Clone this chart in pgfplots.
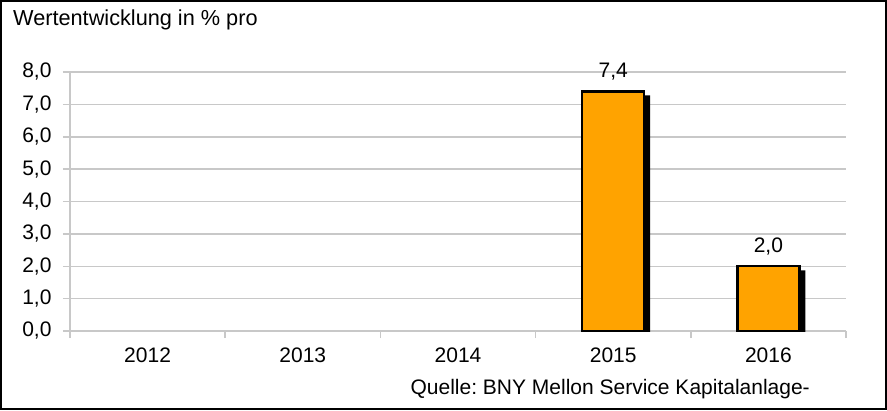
\documentclass[border=0pt]{standalone}
\usepackage{pgfplots}
\pgfplotsset{compat=1.18}
\usepackage{fontspec}
\setmainfont{Liberation Sans}
\frenchspacing
\definecolor{barorange}{RGB}{255,163,0}
\definecolor{gridgray}{RGB}{200,200,200}
\begin{document}
\begin{tikzpicture}[x=1bp,y=1bp]
\useasboundingbox (0,0) rectangle (887,410);
\draw[line width=1.5bp] (1,1) rectangle (886,409);
\node[anchor=base west, inner sep=0pt, font=\fontsize{21.7bp}{25bp}\selectfont] at (13,385) {Wertentwicklung in \% pro};
\begin{axis}[
  at={(70bp,79bp)}, anchor=south west,
  scale only axis, width=776bp, height=259bp,
  xmin=-0.5, xmax=4.5, ymin=0, ymax=8,
  xtick={-0.5,0.5,1.5,2.5,3.5,4.5}, xticklabels={},
  extra x ticks={0,1,2,3,4},
  extra x tick labels={2012,2013,2014,2015,2016},
  extra x tick style={major tick length=0pt, xticklabel style={yshift=-13bp}},
  ytick={0,1,2,3,4,5,6,7,8},
  axis x line*=bottom, axis y line*=left,
  axis line style={gridgray, line width=1.5bp},
  tick align=outside, major tick length=7bp,
  tick style={gridgray, line width=1.5bp},
  ymajorgrids, grid style={gridgray, line width=1.5bp},
  tick label style={font=\fontsize{21bp}{25bp}\selectfont, text=black},
  /pgf/number format/assume math mode=true,
  yticklabel style={xshift=-8bp, /pgf/number format/.cd, fixed, fixed zerofill, precision=1, use comma},
  clip=true,
]
\addplot[ybar, bar shift=0pt, bar width=62bp, fill=black, draw=none, xshift=6bp, yshift=-4bp, forget plot]
  coordinates {(3,7.4) (4,2.0)};
\addplot[ybar, bar shift=0pt, bar width=62bp, fill=barorange, draw=black, line width=2.2bp,
  nodes near coords={\pgfmathprintnumber[fixed,fixed zerofill,precision=1,use comma,assume math mode=true]{\pgfplotspointmeta}},
  every node near coord/.append style={font=\fontsize{21bp}{25bp}\selectfont, text=black, yshift=7bp}]
  coordinates {(3,7.4) (4,2.0)};
\end{axis}
\node[anchor=base east, inner sep=0pt, font=\fontsize{21bp}{25bp}\selectfont] at (810,16) {Quelle: BNY Mellon Service Kapitalanlage-};
\end{tikzpicture}
\end{document}
